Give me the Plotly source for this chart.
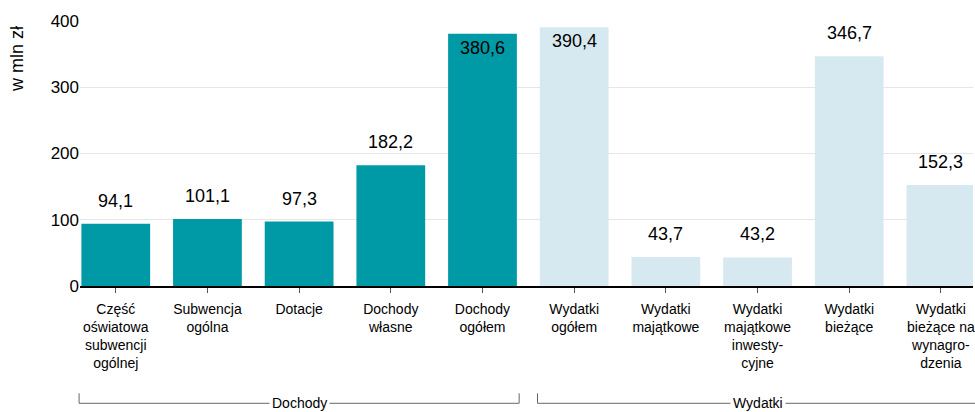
import plotly.graph_objects as go

categories = [
    "Część<br>oświatowa<br>subwencji<br>ogólnej",
    "Subwencja<br>ogólna",
    "Dotacje",
    "Dochody<br>własne",
    "Dochody<br>ogółem",
    "Wydatki<br>ogółem",
    "Wydatki<br>majątkowe",
    "Wydatki<br>majątkowe<br>inwesty-<br>cyjne",
    "Wydatki<br>bieżące",
    "Wydatki<br>bieżące na<br>wynagro-<br>dzenia",
]
values = [94.1, 101.1, 97.3, 182.2, 380.6, 390.4, 43.7, 43.2, 346.7, 152.3]
groups = ["Dochody"] * 5 + ["Wydatki"] * 5
group_names = ["Dochody", "Wydatki"]
group_colors = {"Dochody": "#009aa6", "Wydatki": "#d7e9f0"}
inside_labels = [False, False, False, False, True, True, False, False, False, False]
y_ticks = [0, 100, 200, 300, 400]

FONT = "Liberation Sans, Arial, sans-serif"
XR = [-0.39, 9.35]

fig = go.Figure()
fig.add_trace(go.Bar(
    x=list(range(len(values))),
    y=values,
    marker=dict(color=[group_colors[g] for g in groups], line=dict(width=0)),
    hoverinfo="skip",
))

for i, (v, inside) in enumerate(zip(values, inside_labels)):
    fig.add_annotation(
        x=i, y=v, xref="x", yref="y",
        text=f"{v:.1f}".replace(".", ","),
        showarrow=False, xanchor="center", yanchor="middle",
        yshift=-14 if inside else 23,
        font=dict(family=FONT, size=18, color="#000"),
    )

# group brackets
def to_paper(xd):
    return (xd - XR[0]) / (XR[1] - XR[0])

y_line = -0.4426
y_top = -0.405
lc = "#666"
for g in group_names:
    idx = [i for i, gg in enumerate(groups) if gg == g]
    x0 = to_paper(idx[0] - 0.4)
    x1 = to_paper(idx[-1] + 0.4)
    fig.add_shape(type="line", xref="paper", yref="paper", x0=x0, x1=x1, y0=y_line, y1=y_line,
                  line=dict(color=lc, width=1))
    fig.add_shape(type="line", xref="paper", yref="paper", x0=x0, x1=x0, y0=y_top, y1=y_line,
                  line=dict(color=lc, width=1))
    fig.add_shape(type="line", xref="paper", yref="paper", x0=x1, x1=x1, y0=y_top, y1=y_line,
                  line=dict(color=lc, width=1))
    fig.add_annotation(
        x=(idx[0] + idx[-1]) / 2, xref="x", y=y_line, yref="paper",
        xanchor="center", yanchor="middle",
        text=g, showarrow=False, bgcolor="white", borderpad=2,
        font=dict(family=FONT, size=14, color="#000"),
    )

# y-axis title as rotated annotation near the top
fig.add_annotation(
    x=-0.0704, xref="paper", y=0.857, yref="paper",
    xanchor="center", yanchor="middle",
    text="w mln zł", textangle=-90, showarrow=False,
    font=dict(family=FONT, size=18, color="#000"),
)

fig.update_layout(
    width=975, height=412,
    margin=dict(l=80, r=0, t=21, b=125.5),
    paper_bgcolor="white", plot_bgcolor="white",
    showlegend=False,
    bargap=0.25,
    font=dict(family=FONT, color="#000"),
)
fig.update_xaxes(
    range=XR,
    tickmode="array",
    tickvals=list(range(len(categories))),
    ticktext=categories,
    tickangle=0,
    ticks="outside", ticklen=5, tickcolor="#555", tickwidth=1,
    ticklabelstandoff=4,
    ticklabeloverflow="allow",
    tickfont=dict(family=FONT, size=14, color="#000"),
    showgrid=False, zeroline=False,
    showline=True, linecolor="#000", linewidth=2,
)
fig.update_yaxes(
    range=[0, 400],
    tickvals=y_ticks,
    tickfont=dict(family=FONT, size=17, color="#000"),
    showgrid=True, gridcolor="#e6e6e6", gridwidth=1,
    zeroline=False, showline=False, ticks="",
)

fig.write_html(
    "out.html",
    config={"displayModeBar": False},
    post_script="document.body.style.margin='0';document.body.style.overflow='hidden';",
)
